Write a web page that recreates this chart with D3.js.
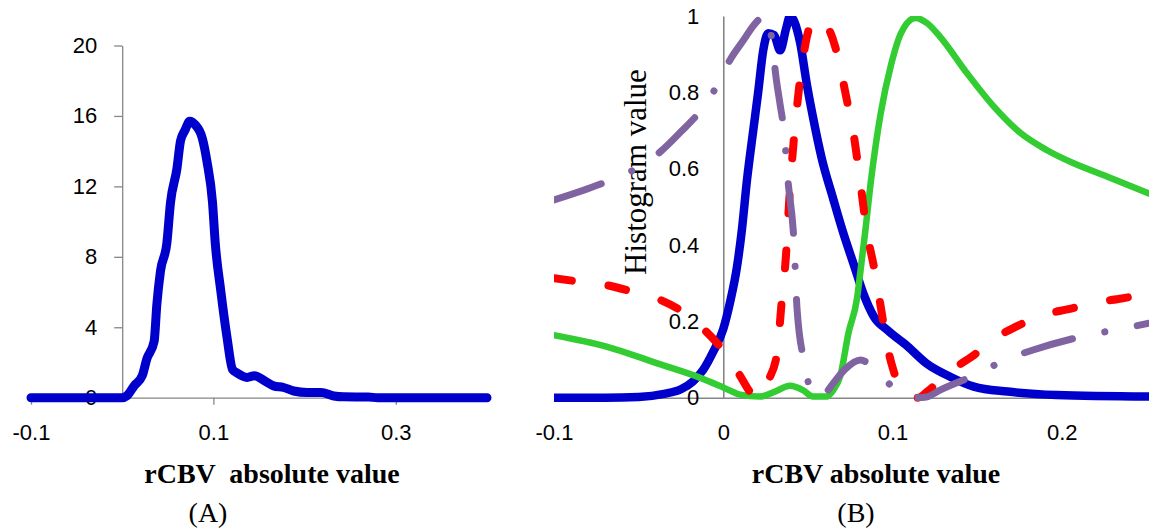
<!DOCTYPE html>
<html>
<head>
<meta charset="utf-8">
<script src="https://cdn.jsdelivr.net/npm/d3@7"></script>
<style>
  body { margin: 0; background: #fff; }
  svg { display: block; }
  .tick text { font-family: "Liberation Sans", Arial, sans-serif; font-size: 22px; fill: #000; }
</style>
</head>
<body>
<svg id="svg"></svg>
<script>
// panel A: single rCBV histogram
const aX = [-0.1, 0, 0.005, 0.013, 0.022, 0.027, 0.035, 0.038, 0.042, 0.049, 0.053, 0.060, 0.064, 0.069, 0.074, 0.080, 0.088, 0.093, 0.099, 0.102, 0.108, 0.115, 0.121, 0.126, 0.137, 0.145, 0.156, 0.166, 0.177, 0.188, 0.203, 0.218, 0.232, 0.243, 0.27, 0.28, 0.40];
const aY = [0, 0, 0.1, 0.67, 1.25, 2.2, 3.2, 5.3, 7.2, 8.8, 11.1, 13.0, 14.6, 15.2, 15.7, 15.5, 14.7, 13.4, 11.1, 8.8, 6.1, 3.4, 1.6, 1.4, 1.15, 1.25, 0.96, 0.67, 0.58, 0.38, 0.29, 0.29, 0.1, 0.05, 0.04, 0, 0];
const aYTicks = [0, 4, 8, 12, 16, 20];
const aXTicks = [-0.1, 0.1, 0.3];

// panel B: four normalised histograms
const blueX = [-0.1, -0.07, -0.05, -0.035, -0.025, -0.018, -0.012, -0.006, 0.0, 0.004, 0.008, 0.011, 0.014, 0.0177, 0.0206, 0.0236, 0.0266, 0.030, 0.0336, 0.037, 0.0395, 0.042, 0.0454, 0.0494, 0.053, 0.058, 0.065, 0.071, 0.077, 0.083, 0.089, 0.097, 0.109, 0.120, 0.134, 0.148, 0.168, 0.197, 0.2515];
const blueY = [0, 0, 0.002, 0.01, 0.022, 0.042, 0.072, 0.12, 0.18, 0.25, 0.34, 0.44, 0.57, 0.70, 0.80, 0.91, 0.955, 0.95, 0.91, 0.965, 1.0, 0.985, 0.93, 0.82, 0.735, 0.63, 0.52, 0.43, 0.35, 0.27, 0.212, 0.177, 0.134, 0.090, 0.055, 0.029, 0.016, 0.007, 0.003];

const greenX = [-0.1, -0.069, -0.039, -0.0136, 0.0, 0.010, 0.0218, 0.030, 0.0395, 0.047, 0.053, 0.061, 0.065, 0.069, 0.074, 0.079, 0.081, 0.084, 0.087, 0.090, 0.093, 0.099, 0.105, 0.1136, 0.1205, 0.128, 0.144, 0.160, 0.176, 0.191, 0.207, 0.227, 0.2515];
const greenY = [0.164, 0.134, 0.09, 0.052, 0.027, 0.008, 0.003, 0.015, 0.031, 0.02, 0.003, 0.003, 0.02, 0.055, 0.17, 0.26, 0.33, 0.44, 0.56, 0.66, 0.745, 0.87, 0.955, 0.995, 0.981, 0.946, 0.85, 0.762, 0.692, 0.649, 0.614, 0.579, 0.535];

const redX = [-0.1, -0.085, -0.069, -0.054, -0.037, -0.024, -0.011, -0.001, 0.009, 0.018, 0.021, 0.0267, 0.0316, 0.0346, 0.037, 0.039, 0.0435, 0.0475, 0.0504, 0.055, 0.0602, 0.0661, 0.0702, 0.073, 0.077, 0.081, 0.085, 0.089, 0.093, 0.0966, 0.1005, 0.108, 0.115, 0.121, 0.134, 0.1467, 0.1605, 0.173, 0.189, 0.204, 0.2196, 0.2353, 0.2515];
const redY = [0.313, 0.304, 0.295, 0.278, 0.256, 0.225, 0.177, 0.129, 0.064, 0.005, 0.0, 0.046, 0.112, 0.256, 0.37, 0.52, 0.76, 0.90, 0.963, 0.995, 0.981, 0.92, 0.841, 0.78, 0.69, 0.562, 0.43, 0.343, 0.239, 0.142, 0.072, 0.007, 0.0, 0.018, 0.07, 0.107, 0.156, 0.186, 0.217, 0.232, 0.249, 0.26, 0.273];

const purpleX = [-0.1, -0.069, -0.05, -0.037, -0.025, -0.014, -0.004, 0.004, 0.012, 0.018, 0.0235, 0.0255, 0.029, 0.031, 0.0335, 0.036, 0.038, 0.042, 0.0435, 0.048, 0.052, 0.0565, 0.061, 0.065, 0.072, 0.081, 0.0897, 0.096, 0.1035, 0.112, 0.12, 0.128, 0.151, 0.1664, 0.183, 0.2155, 0.2332, 0.2515];
const purpleY = [0.518, 0.566, 0.604, 0.645, 0.697, 0.749, 0.815, 0.885, 0.937, 0.976, 1.0, 1.005, 0.926, 0.845, 0.77, 0.693, 0.58, 0.39, 0.238, 0.09, 0.016, 0.0, 0.015, 0.038, 0.075, 0.099, 0.073, 0.045, 0.016, 0.0, 0.002, 0.02, 0.064, 0.099, 0.125, 0.164, 0.179, 0.195];

const bYTicks = [0, 0.2, 0.4, 0.6, 0.8, 1];
const bXTicks = [-0.1, 0, 0.1, 0.2];

const width = 1149;
const height = 531;
const axisColor = "#868686";

let svg = d3.select("#svg").attr("width", width).attr("height", height);

function zip(xs, ys) {
    return xs.map((x, i) => ({ x: x, y: ys[i] }));
}

// ---------- panel A ----------
const xA = d3.scaleLinear().domain([-0.1, 0.4]).range([31, 487]);
const yA = d3.scaleLinear().domain([0, 20]).range([397.7, 45.5]);

const axA = svg.append("g")
    .attr("transform", `translate(0,${yA(0)})`)
    .call(d3.axisBottom(xA).tickValues(aXTicks).tickSize(7).tickSizeOuter(0).tickFormat(d => d));
axA.selectAll(".tick text").attr("y", 42).attr("dy", null);

const ayA = svg.append("g")
    .attr("transform", `translate(${xA(0)},0)`)
    .call(d3.axisLeft(yA).tickValues(aYTicks).tickSize(8).tickPadding(17).tickSizeOuter(0));

[axA, ayA].forEach(g => {
    g.select(".domain").attr("stroke", axisColor).attr("stroke-width", 1.3);
    g.selectAll(".tick line").attr("stroke", axisColor).attr("stroke-width", 1.3);
});

const lineA = d3.line().x(d => xA(d.x)).y(d => yA(d.y)).curve(d3.curveMonotoneX);
svg.append("path")
    .datum(zip(aX, aY))
    .attr("d", lineA)
    .attr("fill", "none")
    .attr("stroke", "#0000CC")
    .attr("stroke-width", 9)
    .attr("stroke-linejoin", "round")
    .attr("stroke-linecap", "round");

svg.append("text")
    .attr("x", 272).attr("y", 483)
    .attr("text-anchor", "middle")
    .style("font-family", "'Liberation Serif', 'Times New Roman', serif")
    .style("font-weight", "bold")
    .style("font-size", "28px")
    .style("white-space", "pre")
    .text("rCBV  absolute value");

svg.append("text")
    .attr("x", 208).attr("y", 522)
    .attr("text-anchor", "middle")
    .style("font-family", "'Liberation Serif', 'Times New Roman', serif")
    .style("font-size", "28px")
    .text("(A)");

// ---------- panel B ----------
const xB = d3.scaleLinear().domain([-0.1, 0.2515]).range([554, 1149]);
const yB = d3.scaleLinear().domain([0, 1]).range([397.7, 16]);

const axB = svg.append("g")
    .attr("transform", `translate(0,${yB(0)})`)
    .call(d3.axisBottom(xB).tickValues(bXTicks).tickSize(0).tickSizeOuter(0).tickFormat(d => d));
axB.selectAll(".tick text").attr("y", 42).attr("dy", null);

const ayB = svg.append("g")
    .attr("transform", `translate(${xB(0)},0)`)
    .call(d3.axisLeft(yB).tickValues(bYTicks).tickSize(0).tickPadding(24).tickSizeOuter(0).tickFormat(d => d));

[axB, ayB].forEach(g => {
    g.select(".domain").attr("stroke", axisColor).attr("stroke-width", 1.6);
});

svg.append("text")
    .attr("transform", `translate(646,172) rotate(-90)`)
    .attr("text-anchor", "middle")
    .style("font-family", "'Liberation Serif', 'Times New Roman', serif")
    .style("font-size", "31px")
    .text("Histogram value");

svg.append("clipPath").attr("id", "clipB")
    .append("rect")
    .attr("x", 554).attr("y", 16)
    .attr("width", width - 554).attr("height", 400);

const lineB = d3.line().x(d => xB(d.x)).y(d => yB(d.y)).curve(d3.curveMonotoneX);
const plotB = svg.append("g").attr("clip-path", "url(#clipB)");

const seriesB = [
    { xs: blueX, ys: blueY, color: "#0000CC", w: 8.5, dash: null },
    { xs: greenX, ys: greenY, color: "#33CC33", w: 6.5, dash: null },
    { xs: redX, ys: redY, color: "#FF0000", w: 8, dash: "18,37" },
    { xs: purpleX, ys: purpleY, color: "#8064A2", w: 7, dash: "50,33,0.1,33" }
];

seriesB.forEach(s => {
    plotB.append("path")
        .datum(zip(s.xs, s.ys))
        .attr("d", lineB)
        .attr("fill", "none")
        .attr("stroke", s.color)
        .attr("stroke-width", s.w)
        .attr("stroke-linejoin", "round")
        .attr("stroke-linecap", "round")
        .attr("stroke-dasharray", s.dash);
});

svg.append("text")
    .attr("x", 876).attr("y", 483)
    .attr("text-anchor", "middle")
    .style("font-family", "'Liberation Serif', 'Times New Roman', serif")
    .style("font-weight", "bold")
    .style("font-size", "28px")
    .text("rCBV absolute value");

svg.append("text")
    .attr("x", 856).attr("y", 522)
    .attr("text-anchor", "middle")
    .style("font-family", "'Liberation Serif', 'Times New Roman', serif")
    .style("font-size", "28px")
    .text("(B)");
</script>
</body>
</html>
